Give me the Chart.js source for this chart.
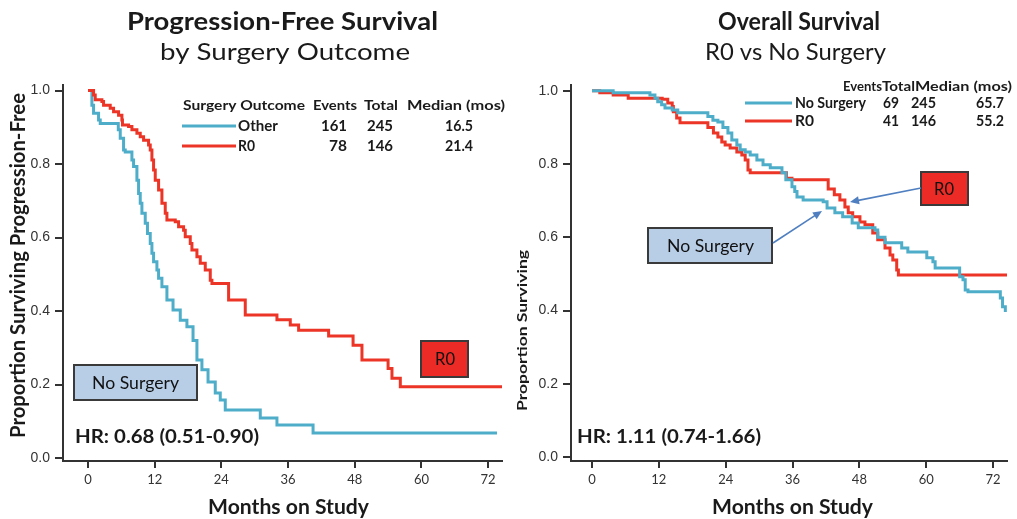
<!DOCTYPE html>
<html>
<head>
<meta charset="utf-8">
<script src="https://cdn.jsdelivr.net/npm/chart.js@4.4.1/dist/chart.umd.min.js"></script>
<style>
  html, body { margin: 0; padding: 0; background: #ffffff; }
  #wrap { position: relative; width: 1017px; height: 519px; overflow: hidden; background: #ffffff; }
  #pfs { position: absolute; left: 0; top: 0; }
  #os { position: absolute; left: 508px; top: 0; }
</style>
</head>
<body>
<div id="wrap">
  <canvas id="pfs" width="508" height="519"></canvas>
  <canvas id="os" width="509" height="519"></canvas>
</div>
<script>
// Axis tick values shared by both panels
const monthTicks = [0, 12, 24, 36, 48, 60, 72];
const propTicks = [0, 0.2, 0.4, 0.6, 0.8, 1.0];

// Progression-free survival, "Other" surgery outcome (Kaplan-Meier steps)
const pfsOtherMonths = [0, 0.7, 1.0, 1.9, 2.2, 5.45, 5.8, 6.4, 6.7, 7.9, 8.2, 8.8, 9.1, 9.4, 9.7, 10.3, 10.7, 11.2, 11.5, 11.8, 12.4, 12.7, 13.3, 14.2, 15.3, 16.6, 17.8, 18.9, 19.6, 20.5, 21.6, 22.9, 23.8, 24.7, 31.0, 34.0, 40.5, 42.7, 73.6];
const pfsOtherSurv   = [1.0, 0.96, 0.938, 0.92, 0.91, 0.893, 0.87, 0.838, 0.833, 0.811, 0.793, 0.756, 0.72, 0.693, 0.666, 0.639, 0.611, 0.584, 0.557, 0.534, 0.512, 0.489, 0.466, 0.43, 0.403, 0.375, 0.357, 0.32, 0.267, 0.24, 0.207, 0.177, 0.158, 0.131, 0.109, 0.09, 0.068, 0.068, 0.068];

// Progression-free survival, R0 resection
const pfsR0Months = [0, 1.0, 1.3, 2.5, 2.8, 4.0, 4.6, 5.5, 6.1, 6.2, 7.3, 7.9, 8.8, 9.4, 10.0, 10.9, 11.2, 11.5, 11.8, 12.1, 12.7, 13.3, 13.9, 14.2, 15.7, 16.3, 17.2, 17.5, 18.4, 18.7, 19.6, 20.2, 21.1, 22.0, 22.3, 25.3, 28.3, 34.0, 36.4, 37.9, 43.3, 47.7, 49.3, 54.0, 54.7, 56.2, 74.5];
const pfsR0Surv   = [1.0, 0.988, 0.975, 0.97, 0.96, 0.952, 0.942, 0.933, 0.92, 0.906, 0.902, 0.893, 0.884, 0.874, 0.865, 0.852, 0.838, 0.811, 0.784, 0.756, 0.729, 0.693, 0.666, 0.648, 0.643, 0.629, 0.62, 0.602, 0.584, 0.566, 0.548, 0.53, 0.512, 0.484, 0.475, 0.43, 0.389, 0.376, 0.362, 0.348, 0.332, 0.307, 0.267, 0.244, 0.217, 0.194, 0.194];

// Overall survival, no surgery
const osNoSurgMonths = [0, 3.8, 10.4, 11.3, 11.8, 12.5, 13.1, 14.4, 15.4, 20.8, 21.7, 22.6, 23.5, 24.4, 25.1, 26.0, 26.6, 27.5, 28.4, 29.6, 30.7, 32.0, 34.1, 34.8, 35.9, 36.4, 36.8, 37.9, 41.5, 42.2, 43.6, 45.0, 46.7, 47.8, 50.8, 51.3, 52.6, 55.6, 56.7, 60.1, 61.2, 61.6, 66.0, 66.6, 67.0, 67.5, 73.3, 73.7, 74.2];
const osNoSurgSurv   = [1.0, 0.995, 0.989, 0.98, 0.97, 0.962, 0.953, 0.948, 0.94, 0.93, 0.92, 0.915, 0.9, 0.885, 0.866, 0.852, 0.839, 0.833, 0.825, 0.811, 0.798, 0.79, 0.776, 0.757, 0.738, 0.725, 0.71, 0.702, 0.697, 0.68, 0.667, 0.656, 0.639, 0.626, 0.62, 0.6, 0.585, 0.571, 0.56, 0.544, 0.533, 0.516, 0.492, 0.484, 0.456, 0.451, 0.434, 0.41, 0.396];

// Overall survival, R0 resection
const osR0Months = [0, 1.4, 3.8, 6.5, 12.6, 13.6, 14.4, 14.6, 15.2, 15.8, 20.8, 21.8, 22.6, 23.3, 23.9, 24.8, 26.0, 26.9, 27.5, 28.0, 28.4, 34.9, 35.9, 42.4, 43.5, 44.5, 45.4, 46.0, 46.8, 48.1, 49.0, 50.4, 51.3, 52.6, 53.5, 54.0, 54.7, 55.0, 74.5];
const osR0Surv   = [1.0, 0.995, 0.989, 0.98, 0.977, 0.967, 0.957, 0.943, 0.926, 0.913, 0.9, 0.885, 0.874, 0.86, 0.852, 0.844, 0.833, 0.825, 0.811, 0.784, 0.776, 0.761, 0.757, 0.732, 0.716, 0.702, 0.683, 0.667, 0.656, 0.642, 0.634, 0.612, 0.593, 0.571, 0.552, 0.538, 0.511, 0.497, 0.497];

// Legend table contents
const pfsLegendHeader = ['Surgery Outcome', 'Events', 'Total', 'Median (mos)'];
const pfsLegendRows = [['Other', '161', '245', '16.5'], ['R0', '78', '146', '21.4']];
const osLegendHeader = ['Events', 'Total', 'Median (mos)'];
const osLegendRows = [['No Surgery', '69', '245', '65.7'], ['R0', '41', '146', '55.2']];

const BLUE = '#4eadc8';
const RED = '#ec3526';
const INK = '#1a1a1a';
const AXIS = '#333333';
const BOX_BLUE = '#b8cde6';
const BOX_RED = '#ed2b26';
const ARROW = '#4f7fc0';
const FONT = 'Lato, "Open Sans", sans-serif';

// Draw a single line of text centred vertically at cy, stretched/condensed to span x0..x1
function spanText(ctx, str, x0, x1, cy, font, color) {
  ctx.save();
  ctx.font = font;
  ctx.fillStyle = color || INK;
  ctx.textBaseline = 'middle';
  ctx.textAlign = 'left';
  const w = ctx.measureText(str).width;
  ctx.translate(x0, cy);
  ctx.scale((x1 - x0) / w, 1);
  ctx.fillText(str, 0, 0);
  ctx.restore();
}

// Vertical text reading bottom-to-top, spanning y1 (bottom) .. y0 (top) at centre x
function spanTextV(ctx, str, cx, y0, y1, font, color) {
  ctx.save();
  ctx.font = font;
  ctx.fillStyle = color || INK;
  ctx.textBaseline = 'middle';
  ctx.textAlign = 'left';
  const w = ctx.measureText(str).width;
  ctx.translate(cx, y1);
  ctx.rotate(-Math.PI / 2);
  ctx.scale((y1 - y0) / w, 1);
  ctx.fillText(str, 0, 0);
  ctx.restore();
}

function legendLine(ctx, x0, x1, y, color) {
  ctx.save();
  ctx.strokeStyle = color;
  ctx.lineWidth = 3;
  ctx.beginPath();
  ctx.moveTo(x0, y);
  ctx.lineTo(x1, y);
  ctx.stroke();
  ctx.restore();
}

function calloutBox(ctx, x0, y0, x1, y1, fill, label, tx0, tx1) {
  ctx.save();
  ctx.fillStyle = fill;
  ctx.fillRect(x0, y0, x1 - x0, y1 - y0);
  ctx.strokeStyle = '#3a3a3a';
  ctx.lineWidth = 2;
  ctx.strokeRect(x0, y0, x1 - x0, y1 - y0);
  ctx.restore();
  spanText(ctx, label, tx0, tx1, (y0 + y1) / 2 + 1, '17px ' + FONT, '#111');
}

function arrow(ctx, x0, y0, x1, y1) {
  const a = Math.atan2(y1 - y0, x1 - x0);
  const L = 9, W = 4;
  ctx.save();
  ctx.strokeStyle = ARROW;
  ctx.fillStyle = ARROW;
  ctx.lineWidth = 1.6;
  ctx.beginPath();
  ctx.moveTo(x0, y0);
  ctx.lineTo(x1 - L * 0.8 * Math.cos(a), y1 - L * 0.8 * Math.sin(a));
  ctx.stroke();
  ctx.beginPath();
  ctx.moveTo(x1, y1);
  ctx.lineTo(x1 - L * Math.cos(a) + W * Math.sin(a), y1 - L * Math.sin(a) - W * Math.cos(a));
  ctx.lineTo(x1 - L * Math.cos(a) - W * Math.sin(a), y1 - L * Math.sin(a) + W * Math.cos(a));
  ctx.closePath();
  ctx.fill();
  ctx.restore();
}

// Panel decorations: titles, axis titles, legend tables, HR and call-outs
const decorations = {
  pfs(ctx) {
    spanText(ctx, 'Progression-Free Survival', 127, 438, 22, 'bold 25px ' + FONT);
    spanText(ctx, 'by Surgery Outcome', 160, 410, 52, '24px ' + FONT);
    spanText(ctx, 'Months on Study', 208, 369, 507, 'bold 21px ' + FONT);
    spanTextV(ctx, 'Proportion Surviving Progression-Free', 18, 93, 438, 'bold 21px ' + FONT);

    const hb = 'bold 14px ' + FONT, rb = 'bold 16px ' + FONT;
    spanText(ctx, pfsLegendHeader[0], 183, 305, 105, hb);
    spanText(ctx, pfsLegendHeader[1], 313, 357, 105, hb);
    spanText(ctx, pfsLegendHeader[2], 364, 398, 105, hb);
    spanText(ctx, pfsLegendHeader[3], 407, 505, 105, hb);
    const rowY = [126, 146], colors = [BLUE, RED];
    pfsLegendRows.forEach((r, i) => {
      legendLine(ctx, 182, 236, rowY[i], colors[i]);
      spanText(ctx, r[0], 238, i === 0 ? 278 : 255, rowY[i], rb);
      spanText(ctx, r[1], i === 0 ? 321 : 329, 347, rowY[i], rb);
      spanText(ctx, r[2], 367, 393, rowY[i], rb);
      spanText(ctx, r[3], 445, 473, rowY[i], rb);
    });

    spanText(ctx, 'HR: 0.68 (0.51-0.90)', 75, 259, 437, 'bold 18px ' + FONT);
    calloutBox(ctx, 74, 365, 197, 400, BOX_BLUE, 'No Surgery', 92, 179);
    calloutBox(ctx, 421, 341, 468, 377, BOX_RED, 'R0', 435, 455);
  },
  os(ctx) {
    spanText(ctx, 'Overall Survival', 210, 372, 22, 'bold 25px ' + FONT);
    spanText(ctx, 'R0 vs No Surgery', 197, 378, 52, '24px ' + FONT);
    spanText(ctx, 'Months on Study', 204, 365, 507, 'bold 21px ' + FONT);
    spanTextV(ctx, 'Proportion Surviving', 15, 250, 411, 'bold 13px ' + FONT);

    const hb = 'bold 14px ' + FONT, rb = 'bold 15px ' + FONT;
    spanText(ctx, osLegendHeader[0], 335, 374, 86, hb);
    spanText(ctx, osLegendHeader[1], 374, 407, 86, hb);
    spanText(ctx, osLegendHeader[2], 407, 504, 86, hb);
    const rowY = [103, 121], colors = [BLUE, RED];
    osLegendRows.forEach((r, i) => {
      legendLine(ctx, 237, 284, rowY[i], colors[i]);
      spanText(ctx, r[0], 287, i === 0 ? 358 : 306, rowY[i], rb);
      spanText(ctx, r[1], 375, 391, rowY[i], rb);
      spanText(ctx, r[2], 403, 428, rowY[i], rb);
      spanText(ctx, r[3], 468, 496, rowY[i], rb);
    });

    spanText(ctx, 'HR: 1.11 (0.74-1.66)', 69, 253, 437, 'bold 18px ' + FONT);
    calloutBox(ctx, 140, 228, 264, 263, BOX_BLUE, 'No Surgery', 159, 246);
    calloutBox(ctx, 413, 172, 460, 205, BOX_RED, 'R0', 426, 446);
    arrow(ctx, 265, 243, 314, 211);
    arrow(ctx, 413, 188, 342, 202);
  }
};

const decorPlugin = {
  id: 'panelDecor',
  afterDraw(chart) {
    const fn = decorations[chart.canvas.id];
    if (fn) fn(chart.ctx);
  }
};

const whiteBg = {
  id: 'whiteBg',
  beforeDraw(chart) {
    const c = chart.ctx;
    c.save();
    c.fillStyle = '#ffffff';
    c.fillRect(0, 0, chart.width, chart.height);
    c.restore();
  }
};

function kmPanel(canvasId, series, xRange, yRange, padRight) {
  return new Chart(document.getElementById(canvasId), {
    type: 'line',
    data: {
      datasets: series.map(s => ({
        data: s.months.map((m, i) => ({ x: m, y: s.surv[i] })),
        borderColor: s.color,
        borderWidth: 3,
        stepped: 'before',
        pointRadius: 0,
        fill: false,
        borderJoinStyle: 'miter',
        borderCapStyle: 'butt'
      }))
    },
    options: {
      responsive: false,
      animation: false,
      events: [],
      layout: { padding: { left: 0, top: 85, right: padRight, bottom: 0 } },
      plugins: { legend: { display: false }, tooltip: { enabled: false }, title: { display: false } },
      scales: {
        x: {
          type: 'linear',
          min: xRange[0],
          max: xRange[1],
          afterBuildTicks: s => { s.ticks = monthTicks.map(v => ({ value: v })); },
          afterFit: s => { s.height = 58; },
          border: { display: true, color: AXIS, width: 2 },
          grid: { drawOnChartArea: false, drawTicks: true, tickLength: 7, color: AXIS, lineWidth: 2 },
          ticks: {
            autoSkip: false, maxRotation: 0, padding: 4, color: '#333',
            font: { family: FONT, size: 13 },
            callback: v => String(v)
          }
        },
        y: {
          type: 'linear',
          min: yRange[0],
          max: yRange[1],
          afterBuildTicks: s => { s.ticks = propTicks.map(v => ({ value: v })); },
          afterFit: s => { s.width = 63; },
          border: { display: true, color: AXIS, width: 2 },
          grid: { drawOnChartArea: false, drawTicks: true, tickLength: 8, color: AXIS, lineWidth: 2 },
          ticks: {
            padding: 5, color: '#333',
            font: { family: '"Liberation Sans", Arial, sans-serif', size: 14 },
            callback: v => Number(v).toFixed(1)
          }
        }
      }
    },
    plugins: [whiteBg, decorPlugin]
  });
}

kmPanel('pfs',
  [
    { months: pfsR0Months, surv: pfsR0Surv, color: RED },
    { months: pfsOtherMonths, surv: pfsOtherSurv, color: BLUE }
  ],
  [-4.5, 74.5], [-0.008, 1.015], 6);

kmPanel('os',
  [
    { months: osNoSurgMonths, surv: osNoSurgSurv, color: BLUE },
    { months: osR0Months, surv: osR0Surv, color: RED }
  ],
  [-3.77, 74.5], [-0.011, 1.016], 10);
</script>
</body>
</html>
